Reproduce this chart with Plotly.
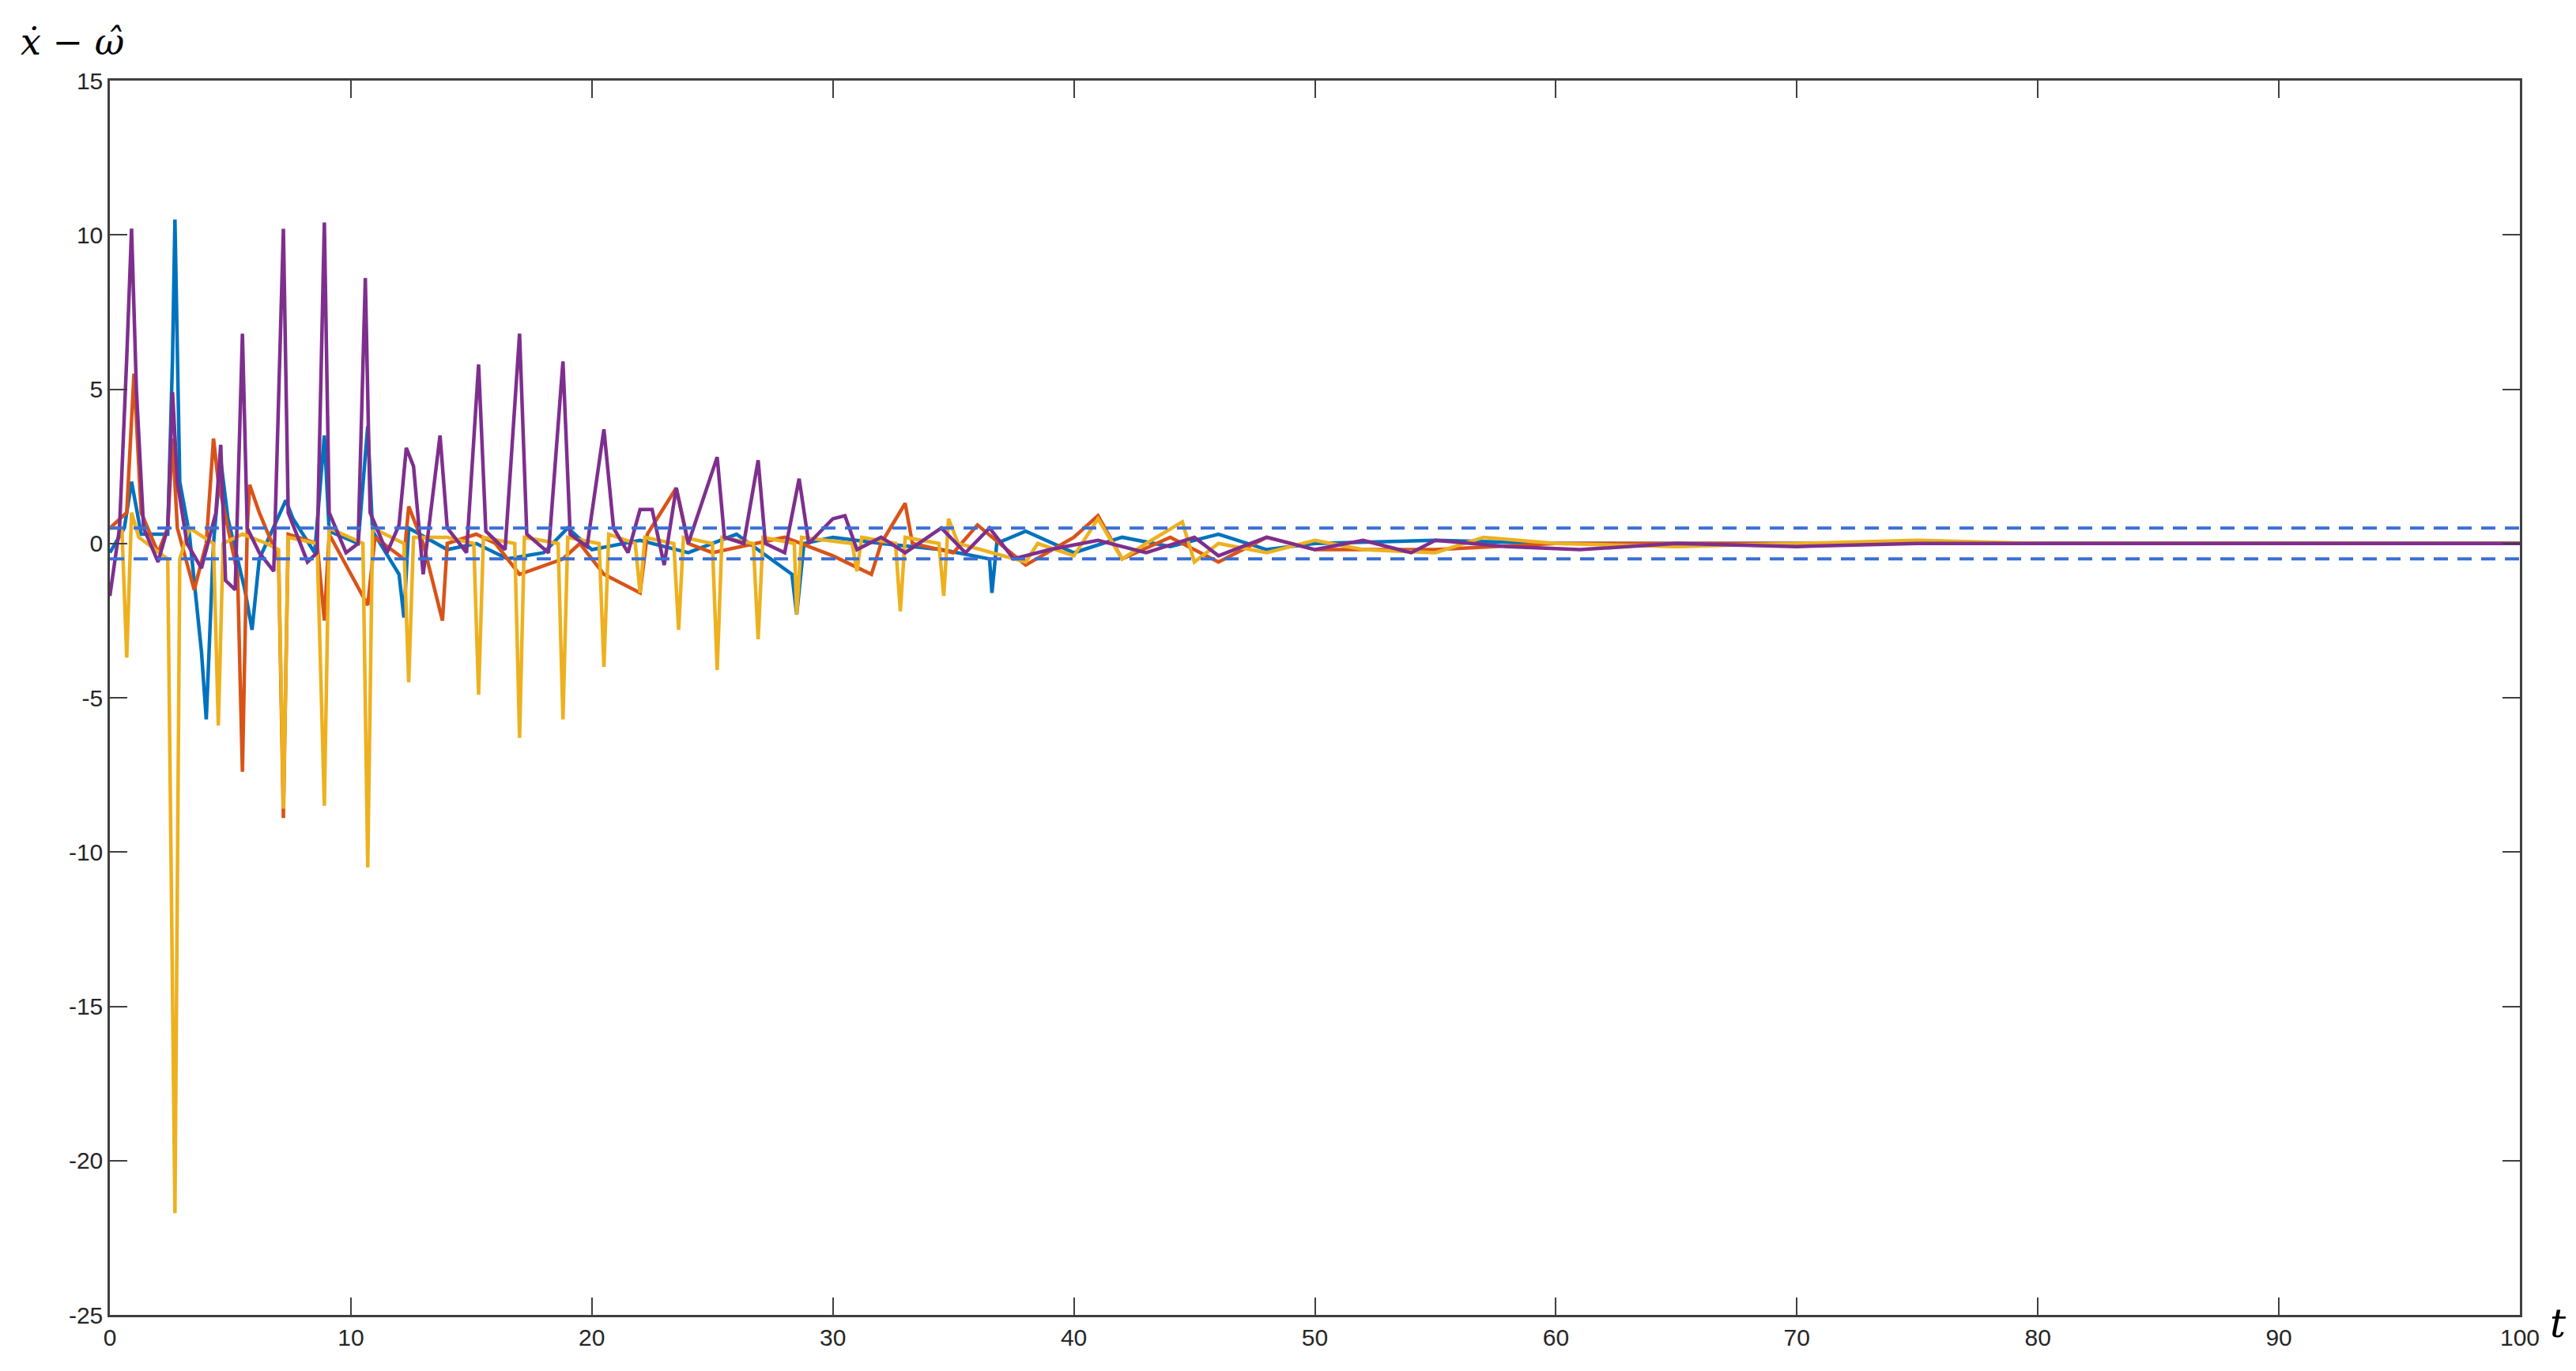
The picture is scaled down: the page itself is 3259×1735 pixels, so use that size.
import plotly.graph_objects as go

purple_t = [0,0.4,0.7,0.9,1.1,1.4,2.0,2.4,2.6,2.8,3.2,3.8,4.4,4.6,4.8,5.2,5.5,5.7,6.2,6.8,7.2,7.4,8.2,8.6,8.9,9.1,9.8,10.3,10.6,10.8,11.5,12.0,12.3,12.6,13.0,13.7,14.0,14.8,15.3,15.6,16.4,17.0,17.3,18.2,18.8,19.1,19.8,20.5,20.9,21.5,22.0,22.5,23.0,23.5,24.0,25.2,25.5,26.3,26.9,27.2,28.0,28.6,29.0,30.0,30.5,31.0,32.0,33.0,34.5,35.5,36.5,37.5,39,41,43,45,46,48,50,52,54,55,58,61,65,70,75,80,90,100]
purple_y = [-1.7,0.5,6,10.2,5,0.5,-0.6,0.5,4.9,2,0,-0.8,1,3.2,-1.2,-1.5,6.8,0.5,-0.3,-0.9,10.2,1,-0.6,-0.3,10.4,1,-0.3,0,8.6,1,-0.3,0.6,3.1,2.5,-1.0,3.5,0.5,-0.3,5.8,0.4,-0.2,6.8,0.3,-0.3,5.9,0.3,-0.1,3.7,0.5,-0.3,1.1,1.1,-0.7,1.8,0,2.8,0.2,0,2.7,0,-0.3,2.1,0,0.8,0.9,-0.2,0.2,-0.3,0.5,-0.3,0.5,-0.5,-0.2,0.1,-0.3,0.2,-0.4,0.2,-0.2,0.1,-0.3,0.1,-0.1,-0.2,0,-0.1,0,0,0,0]

yellow_t = [0,0.5,0.7,0.9,1.2,2.4,2.7,2.9,3.3,4.3,4.5,4.7,5.5,6.5,7.0,7.2,7.4,8.6,8.9,9.1,10.5,10.7,10.9,12.2,12.4,12.6,14.0,15.1,15.3,15.5,16.8,17.0,17.2,18.6,18.8,19.0,20.3,20.5,20.7,21.8,22.0,22.2,23.4,23.6,23.8,25.0,25.2,25.4,26.7,26.9,27.1,28.4,28.5,28.7,30.8,31.0,31.2,32.6,32.8,33.0,34.4,34.6,34.8,35.2,38,38.5,40,41,42,43,44.5,45,46,48,50,52,55,57,60,65,70,75,80,100]
yellow_y = [0.5,0.5,-3.7,1,0.2,-0.5,-21.7,-0.5,0.5,0,-5.9,0,0.3,0,-0.2,-8.6,0.2,0,-8.5,0.5,0,-10.5,0.5,0,-4.5,0.2,0.2,0,-4.9,0.2,0,-6.3,0.2,0,-5.7,0.2,0,-4.0,0.3,0,-1.6,0.2,0,-2.8,0.2,0,-4.1,0.2,0,-3.1,0.2,0,-2.3,0.2,0,-0.9,0.2,0,-2.2,0.2,0,-1.7,0.8,0,-0.6,0,-0.4,0.8,-0.5,0,0.7,-0.6,0,-0.3,0.1,-0.2,-0.3,0.2,0,-0.1,0,0.1,0,0]

blue_t = [0,0.6,0.9,1.3,2.4,2.6,2.7,2.9,3.3,3.8,4.0,4.3,4.6,4.9,5.6,5.9,6.2,7.3,7.6,8.5,8.9,9.1,10.3,10.7,10.9,12.0,12.2,12.4,14.0,15.2,16.5,18.0,19,20,22,24,26,28.3,28.5,28.8,30,32,34.5,36.5,36.6,36.8,38,40,42,44,46,48,50,55,60,100]
blue_y = [-0.3,0.5,2,0.3,0.3,6,10.5,2,0.3,-3.5,-5.7,0,2.7,0.8,-1.5,-2.8,-0.5,1.4,0.8,-0.3,3.5,0.4,0,3.8,0.4,-1,-2.4,0.5,-0.2,0,-0.5,-0.3,0.5,-0.2,0.1,-0.3,0.3,-1,-2.3,0,0.2,0,-0.2,-0.5,-1.6,0,0.4,-0.3,0.2,-0.1,0.3,-0.2,0,0.1,0,0]

orange_t = [0,0.7,1.0,1.3,2.0,2.4,2.6,2.8,3.5,4.0,4.3,4.5,5.3,5.5,5.7,5.8,6.2,7.0,7.2,7.4,8.6,8.9,9.1,10.7,11,12.2,12.4,13.0,13.8,14.0,15.2,16.0,17,18.8,19.5,20.5,22.0,22.3,23.5,24,25,26.9,28,30,31.6,32,33.0,33.3,35,36,38,40,41,42,44,46,48,50,55,60,100]
orange_y = [0.5,1,5.5,1,-0.3,0.5,3.4,0.5,-1.5,0,3.4,2,-1,-7.4,0.5,1.9,1,-0.5,-8.9,0.3,0,-2.5,0.3,-2,0.2,-0.5,1.2,0,-2.5,0,0.3,0,-1,-0.5,0,-1.0,-1.6,0.3,1.8,0,-0.3,0,0.2,-0.4,-1.0,0,1.3,0,-0.3,0.6,-0.7,0.2,0.9,-0.5,0.2,-0.6,0.2,-0.2,-0.2,0,0]

bound = 0.5
x_ticks = [0,10,20,30,40,50,60,70,80,90,100]
y_ticks = [-25,-20,-15,-10,-5,0,5,10,15]
y_labels = ["-25","-20","-15","-10","-5","0","5","10","15"]

fig = go.Figure()
for t, y, c in [(blue_t, blue_y, "#0072BD"), (orange_t, orange_y, "#D95319"),
                (yellow_t, yellow_y, "#EDB120"), (purple_t, purple_y, "#7E2F8E")]:
    fig.add_trace(go.Scatter(x=t, y=y, mode="lines", line=dict(color=c, width=4.5), showlegend=False))
for b in (bound, -bound):
    fig.add_trace(go.Scatter(x=[0, 100], y=[b, b], mode="lines",
                             line=dict(color="#3B6FD6", width=4, dash="18px,12px"), showlegend=False))

ax = dict(showgrid=False, zeroline=False, showline=True, linecolor="#404040", linewidth=2.5,
          mirror="ticks", ticks="inside", ticklen=22, tickwidth=2, tickcolor="#404040",
          tickfont=dict(family="Liberation Sans, Arial", size=30, color="#262626"))
fig.update_layout(width=3259, height=1735, margin=dict(l=131, r=79, t=94, b=79),
                  plot_bgcolor="white", paper_bgcolor="white")
fig.update_xaxes(range=[0, 100], tickvals=x_ticks, **ax)
fig.update_yaxes(range=[-25, 15], tickvals=y_ticks, ticktext=y_labels, **ax)
fig.add_annotation(x=0, y=1, xref="paper", yref="paper", xanchor="left", yanchor="bottom",
                   xshift=-115, yshift=20, text="<i>ẋ</i> − <i>ω̂</i>", showarrow=False,
                   font=dict(family="DejaVu Serif", size=46, color="black"))
fig.add_annotation(x=1, y=0, xref="paper", yref="paper", xanchor="left", yanchor="top",
                   xshift=36, yshift=20, text="<i>t</i>", showarrow=False,
                   font=dict(family="DejaVu Serif", size=50, color="black"))
fig.write_html("out.html")
